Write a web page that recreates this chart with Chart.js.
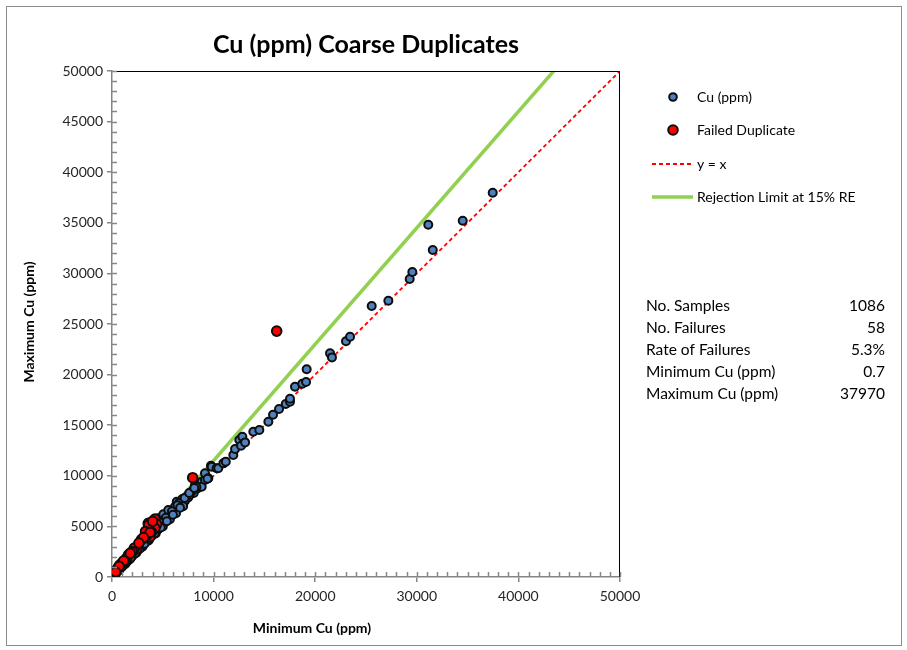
<!DOCTYPE html>
<html lang="en">
  <head>
    <script src="https://cdn.jsdelivr.net/npm/chart.js"></script>
    <style>
      body { margin: 0; background: #fff; }
      canvas { display: block; }
    </style>
  </head>
  <body>
    <canvas id="myChart" width="907" height="650"></canvas>
    <script>
      // passed duplicates: minimum / maximum of each pair (ppm)
      const passMin = [50, 120, 200, 300, 380, 450, 520, 600, 680, 750, 820, 900, 980, 1050, 1120, 1200, 1280, 1350, 1420, 1500,
        1580, 1650, 1730, 1800, 1880, 1950, 2030, 2100, 2180, 2260, 2340, 2420, 2500, 2580, 2650, 2730, 2820, 2900, 2980, 3060,
        3150, 3230, 3320, 3400, 3500, 3580, 3670, 3750, 3850, 3950, 4050, 4150, 4250, 4350, 4450, 4550, 4650, 4760, 4870, 4980,
        5100, 5200, 5320, 5450, 5560, 5680, 5800, 5950, 6080, 6200, 6370, 6500, 6650, 6800, 6920, 7050, 7200, 7350, 7500, 7650,
        7900, 8050, 8170, 8400, 8600, 8830, 8830, 9150, 9150, 9480, 9740, 9810, 10300, 10460, 10960, 11200, 11940, 12110, 12530, 12700,
        12830, 13100, 13910, 14500, 15390, 15850, 16440, 17100, 17520, 17520, 18010, 18730, 19100, 19160, 21460, 21650, 23030, 23430, 25560, 27200,
        29300, 29560, 31130, 31570, 34520, 37470, 4560, 5050, 5540, 4700, 3300, 2700, 1900, 1100, 6600, 7800, 8300, 9400,
        250, 700, 1300, 1750, 2400, 3000, 3600, 4300, 5000, 5700, 6300, 7000,
        400, 850, 1150, 1550, 2050, 2450, 2850, 3250, 3700, 4100, 4500, 4900, 5300, 5900, 6450, 7150, 7600, 8100,
        180, 560, 960, 1400, 1850, 2300, 2750, 3200, 3650, 4200, 4800, 5400, 6000, 6700];
      const passMax = [60, 140, 215, 330, 400, 500, 560, 640, 700, 820, 870, 960, 1030, 1130, 1160, 1290, 1330, 1420, 1520, 1560,
        1700, 1720, 1850, 1880, 1990, 2040, 2180, 2200, 2300, 2380, 2500, 2520, 2650, 2700, 2790, 2850, 3000, 3020, 3120, 3220,
        3350, 3360, 3480, 3560, 3700, 3720, 3850, 3900, 4080, 4100, 4250, 4330, 4480, 4520, 4700, 4730, 4880, 4980, 5120, 5190,
        5330, 5500, 5560, 5720, 5800, 5950, 6100, 6200, 6400, 6950, 7440, 6820, 7000, 7200, 7710, 7400, 7550, 7930, 7850, 8100,
        8430, 8300, 9090, 8750, 9000, 9420, 8920, 9600, 10240, 9750, 11000, 10900, 10740, 10740, 11230, 11400, 12050, 12650, 13540, 12970,
        13860, 13300, 14360, 14520, 15340, 16040, 16600, 17090, 17320, 17620, 18800, 19100, 19270, 20520, 22100, 21700, 23290, 23740, 26770, 27300,
        29440, 30130, 34810, 32310, 35200, 37970, 5800, 6190, 6620, 5300, 3700, 3100, 2200, 1350, 7300, 8400, 8900, 9700,
        250, 700, 1300, 1750, 2400, 3000, 3600, 4300, 5000, 5700, 6300, 7000,
        470, 980, 1300, 1760, 2300, 2740, 3180, 3600, 4100, 4520, 4980, 5420, 5860, 6500, 7080, 7800, 8300, 8800,
        190, 580, 990, 1440, 1900, 2360, 2820, 3280, 3740, 4300, 4900, 5520, 6150, 6850];

      // failed duplicates
      const failMin = [16210, 7940, 4230, 3570, 4400, 4230, 3900, 3740, 3410, 2530, 2430, 2200, 1610, 1440, 1280, 1000, 790, 600, 460, 295,
        150, 100, 3600, 3300, 2900, 2000, 4000, 3750, 1800, 1150, 700, 350, 3100, 2650];
      const failMax = [24300, 9810, 5730, 5300, 5210, 4810, 4420, 3980, 4100, 3000, 2770, 2850, 2170, 1850, 1580, 1400, 1190, 900, 690, 365,
        300, 200, 5100, 4500, 3700, 2500, 5500, 4400, 2350, 1600, 1050, 500, 3900, 3350];

      // reference lines
      const equalX = [0, 50000];
      const equalY = [0, 50000];
      const limitX = [0, 43478];
      const limitY = [0, 50000];

      const legendLabels = ["Cu (ppm)", "Failed Duplicate", "y = x", "Rejection Limit at 15% RE"];
      const statLabels = ["No. Samples", "No. Failures", "Rate of Failures", "Minimum Cu (ppm)", "Maximum Cu (ppm)"];
      const statValues = ["1086", "58", "5.3%", "0.7", "37970"];

      const FONT = "Lato, 'Open Sans', sans-serif";
      const BLUE = "#4f81bd";
      const RED = "#ff0000";
      const GREEN = "#92d050";
      const EDGE = "#0d0d0d";
      const AXIS = "#868686";

      const toPoints = (xs, ys) => xs.map((x, i) => ({ x: x, y: ys[i] }));

      const extras = {
        id: "extras",
        afterDraw(chart) {
          const ctx = chart.ctx;
          const a = chart.chartArea;
          const xs = chart.scales.x;
          const ys = chart.scales.y;
          ctx.save();

          // frame round everything
          ctx.strokeStyle = "#8c8c8c";
          ctx.lineWidth = 1;
          ctx.strokeRect(6.5, 6.5, 895, 639);

          // plot area top / right edges
          ctx.strokeStyle = "#000";
          ctx.beginPath();
          ctx.moveTo(a.left, a.top + 0.5);
          ctx.lineTo(a.right - 0.5, a.top + 0.5);
          ctx.lineTo(a.right - 0.5, a.bottom);
          ctx.stroke();

          // minor tick marks, inside the plot
          ctx.strokeStyle = AXIS;
          ctx.lineWidth = 1.5;
          ctx.beginPath();
          for (let v = 1000; v <= 50000; v += 1000) {
            const px = Math.round(xs.getPixelForValue(v)) + 0.5;
            const py = Math.round(ys.getPixelForValue(v)) + 0.5;
            ctx.moveTo(px, a.bottom);
            ctx.lineTo(px, a.bottom - 5);
            ctx.moveTo(a.left, py);
            ctx.lineTo(a.left + 5, py);
          }
          ctx.stroke();

          // title
          ctx.fillStyle = "#000";
          ctx.textAlign = "center";
          ctx.textBaseline = "middle";
          ctx.font = "bold 25px " + FONT;
          ctx.fillText("Cu (ppm) Coarse Duplicates", (a.left + a.right) / 2, 45);

          // axis titles
          ctx.font = "bold 14px " + FONT;
          ctx.fillText("Minimum Cu (ppm)", 312, 628);
          ctx.save();
          ctx.translate(29, (a.top + a.bottom) / 2 - 2);
          ctx.rotate(-Math.PI / 2);
          ctx.fillText("Maximum Cu (ppm)", 0, 0);
          ctx.restore();

          // legend
          const ly = [97, 130, 164, 197];
          ctx.textAlign = "left";
          ctx.font = "14px " + FONT;
          ctx.fillStyle = "#000";
          legendLabels.forEach((t, i) => ctx.fillText(t, 697, ly[i]));
          ctx.lineWidth = 2;
          ctx.strokeStyle = EDGE;
          ctx.fillStyle = BLUE;
          ctx.beginPath();
          ctx.arc(673, ly[0], 3.8, 0, Math.PI * 2);
          ctx.fill();
          ctx.stroke();
          ctx.fillStyle = RED;
          ctx.beginPath();
          ctx.arc(673, ly[1], 4.8, 0, Math.PI * 2);
          ctx.fill();
          ctx.stroke();
          ctx.strokeStyle = RED;
          ctx.lineWidth = 1.8;
          ctx.setLineDash([4, 3]);
          ctx.beginPath();
          ctx.moveTo(652, ly[2]);
          ctx.lineTo(693, ly[2]);
          ctx.stroke();
          ctx.setLineDash([]);
          ctx.strokeStyle = GREEN;
          ctx.lineWidth = 3.5;
          ctx.beginPath();
          ctx.moveTo(652, ly[3]);
          ctx.lineTo(693, ly[3]);
          ctx.stroke();

          // stats table
          ctx.font = "15.5px " + FONT;
          ctx.fillStyle = "#000";
          statLabels.forEach((t, i) => {
            const y = 306 + i * 22;
            ctx.textAlign = "left";
            ctx.fillText(t, 646, y);
            ctx.textAlign = "right";
            ctx.fillText(statValues[i], 885, y);
          });
          ctx.restore();
        },
      };

      const plainTick = (v) => String(v);

      const ctx = document.getElementById("myChart").getContext("2d");
      const myChart = new Chart(ctx, {
        type: "scatter",
        data: {
          datasets: [
            {
              label: "Failed Duplicate",
              data: toPoints(failMin, failMax),
              backgroundColor: RED,
              borderColor: EDGE,
              borderWidth: 2,
              pointRadius: 4.8,
              order: 1,
            },
            {
              label: "Cu (ppm)",
              data: toPoints(passMin, passMax),
              backgroundColor: BLUE,
              borderColor: EDGE,
              borderWidth: 2,
              pointRadius: 4,
              order: 2,
            },
            {
              label: "y = x",
              data: toPoints(equalX, equalY),
              showLine: true,
              borderColor: RED,
              borderWidth: 1.8,
              borderDash: [4, 3],
              pointRadius: 0,
              order: 3,
            },
            {
              label: "Rejection Limit at 15% RE",
              data: toPoints(limitX, limitY),
              showLine: true,
              borderColor: GREEN,
              borderWidth: 3.5,
              pointRadius: 0,
              order: 4,
            },
          ],
        },
        options: {
          responsive: false,
          animation: false,
          layout: { padding: { left: 0, top: 71, right: 287, bottom: 0 } },
          plugins: {
            legend: { display: false },
            title: { display: false },
            tooltip: { enabled: false },
          },
          scales: {
            x: {
              type: "linear",
              min: 0,
              max: 50000,
              ticks: { stepSize: 10000, callback: plainTick, color: "#262626", font: { family: FONT, size: 14 }, padding: 6, maxRotation: 0 },
              grid: { display: true, drawOnChartArea: false, drawTicks: true, tickLength: 5, color: AXIS, lineWidth: 1.5 },
              border: { color: AXIS, width: 1.5 },
              afterFit(scale) { scale.height = 73; },
            },
            y: {
              type: "linear",
              min: 0,
              max: 50000,
              ticks: { stepSize: 5000, callback: plainTick, color: "#262626", font: { family: FONT, size: 14 }, padding: 4 },
              grid: { display: true, drawOnChartArea: false, drawTicks: true, tickLength: 5, color: AXIS, lineWidth: 1.5 },
              border: { color: AXIS, width: 1.5 },
              afterFit(scale) { scale.width = 112; },
            },
          },
        },
        plugins: [extras],
      });
    </script>
  </body>
</html>
